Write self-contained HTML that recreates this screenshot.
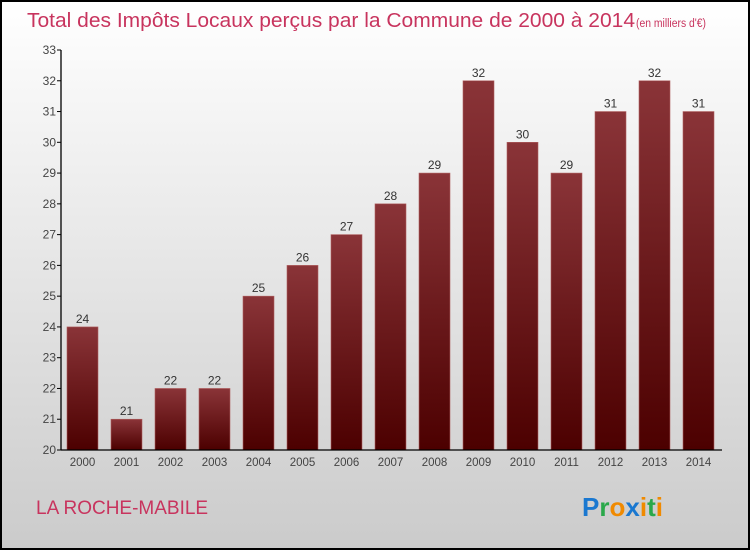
<!DOCTYPE html>
<html><head><meta charset="utf-8"><style>
body{margin:0;width:750px;height:550px;overflow:hidden;font-family:"Liberation Sans",sans-serif}
</style></head><body>
<svg width="750" height="550" xmlns="http://www.w3.org/2000/svg">
<defs>
<linearGradient id="bg" x1="0" y1="0" x2="0" y2="1"><stop offset="0" stop-color="#ffffff"/><stop offset="1" stop-color="#cbcbcb"/></linearGradient>
<linearGradient id="bar" x1="0" y1="0" x2="0" y2="1"><stop offset="0" stop-color="#8a3438"/><stop offset="1" stop-color="#4c0000"/></linearGradient>
</defs>
<rect x="1" y="1" width="748" height="548" fill="url(#bg)" stroke="#000" stroke-width="2"/>
<text x="27" y="27" font-size="20" fill="#c8345e" textLength="608" lengthAdjust="spacingAndGlyphs">Total des Impôts Locaux perçus par la Commune de 2000 à 2014</text>
<text x="636" y="27" font-size="11.5" fill="#c8345e" textLength="70" lengthAdjust="spacingAndGlyphs">(en milliers d'€)</text>
<g id="plot"></g>
<text x="36" y="514" font-size="19" fill="#c8345e">LA ROCHE-MABILE</text>
<g font-size="26" font-weight="bold" font-family="'Liberation Sans',sans-serif">
<text x="582" y="516"><tspan fill="#1a78d0">P</tspan><tspan fill="#2aa84a">r</tspan><tspan fill="#f08a00">o</tspan><tspan fill="#1a78d0">x</tspan><tspan fill="#f08a00">i</tspan><tspan fill="#2aa84a">t</tspan><tspan fill="#f08a00">i</tspan></text>
</g>
</svg>
<script>
const years=['2000','2001','2002','2003','2004','2005','2006','2007','2008','2009','2010','2011','2012','2013','2014'];
const values=[24,21,22,22,25,26,27,28,29,32,30,29,31,32,31];
const yTicks=[20,21,22,23,24,25,26,27,28,29,30,31,32,33];
const NS='http://www.w3.org/2000/svg';
const g=document.getElementById('plot');
const x0=61,x1=722,yTop=50,yBot=450,vmin=20,vmax=33;
const y=v=>yBot-(v-vmin)/(vmax-vmin)*(yBot-yTop);
const xc=i=>82.5+i*44;
function mk(t,a){const e=document.createElementNS(NS,t);for(const k in a)e.setAttribute(k,a[k]);g.appendChild(e);return e;}
values.forEach((v,i)=>{
 const r=mk('rect',{x:xc(i)-15.5,y:y(v),width:31,height:yBot-y(v),fill:'url(#bar)',stroke:'#b06060','stroke-width':0.6});
 
 
 const t=mk('text',{x:xc(i),y:y(v)-4,'font-size':12,fill:'#333','text-anchor':'middle'});
 t.textContent=v;
 
 
 const l=mk('text',{x:xc(i),y:466,'font-size':11.5,fill:'#444','text-anchor':'middle'});
 l.textContent=years[i];
 
 
});
yTicks.forEach(v=>{
 mk('line',{x1:x0-4,x2:x0,y1:y(v),y2:y(v),stroke:'#000'});
 const t=mk('text',{x:x0-5,y:y(v)+4,'font-size':12,fill:'#444','text-anchor':'end'});
 t.textContent=v;
 
 
});
const ya=mk('line',{x1:x0,x2:x0,y1:yTop,y2:yBot,stroke:'#000','stroke-width':1.3});


const xa=mk('line',{x1:x0,x2:x1,y1:yBot,y2:yBot,stroke:'#000','stroke-width':1.3});


</script>
</body></html>
